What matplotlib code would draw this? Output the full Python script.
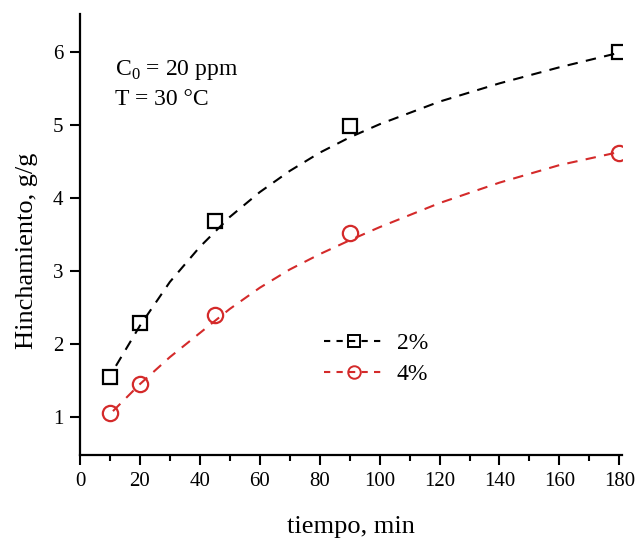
import numpy as np
import matplotlib
matplotlib.use("Agg")
import matplotlib.pyplot as plt
from matplotlib.ticker import MultipleLocator

plt.rcParams["font.family"] = ["Liberation Serif", "DejaVu Serif"]
plt.rcParams["mathtext.fontset"] = "custom"
plt.rcParams["mathtext.rm"] = "Liberation Serif"

# ==========================================================
# DATA
# ==========================================================

t_exp = [10, 20, 45, 90, 180]
w_2pct = [1.55, 2.29, 3.68, 4.98, 6.00]
w_4pct = [1.05, 1.45, 2.40, 3.52, 4.61]

# fitted curves
t_fit_2 = [12, 20, 30, 40, 50, 60, 70, 80, 90, 100, 120, 140, 160, 180]
w_fit_2 = [1.70, 2.25, 2.85, 3.33, 3.74, 4.08, 4.37, 4.62, 4.83, 5.01,
           5.32, 5.57, 5.79, 5.99]

t_fit_4 = [11, 20, 30, 40, 50, 60, 70, 80, 90, 100, 120, 140, 160, 180]
w_fit_4 = [1.08, 1.45, 1.82, 2.15, 2.48, 2.77, 3.02, 3.23, 3.42, 3.60,
           3.93, 4.21, 4.45, 4.63]

labels = ["2%", "4%"]
colors = ["black", "#d42a2a"]

# ==========================================================
# FIGURE
# ==========================================================

fig = plt.figure(figsize=(6.35, 5.39), dpi=100)
ax = fig.add_axes([0.126, 0.156, 0.854, 0.818])

ax.plot(t_fit_2, w_fit_2, ls=(0, (5, 4)), color=colors[0], lw=1.5)
ax.plot(t_fit_4, w_fit_4, ls=(0, (5, 4)), color=colors[1], lw=1.5)

ax.plot(t_exp, w_2pct, ls="none", marker="s", ms=10, mfc="none",
        mec=colors[0], mew=1.6)
ax.plot(t_exp, w_4pct, ls="none", marker="o", ms=11, mfc="none",
        mec=colors[1], mew=1.6)

# legend handles
h1, = ax.plot([], [], ls=(0, (3, 3)), color=colors[0], lw=1.5, marker="s",
              ms=8, mfc="none", mec=colors[0], mew=1.4)
h2, = ax.plot([], [], ls=(0, (3, 3)), color=colors[1], lw=1.5, marker="o",
              ms=9, mfc="none", mec=colors[1], mew=1.4)
ax.legend([h1, h2], labels, loc="upper left",
          bbox_to_anchor=(0.41, 0.325), frameon=False, fontsize=17,
          handlelength=2.6, handletextpad=0.5, labelspacing=0.4)

ax.text(0.065, 0.873, r"C$_0$ = 20 ppm", transform=ax.transAxes,
        fontsize=17, va="center", ha="left")
ax.text(0.065, 0.807, "T = 30 °C", transform=ax.transAxes,
        fontsize=17, va="center", ha="left")

ax.set_xlim(0, 181)
ax.set_ylim(0.48, 6.52)
ax.xaxis.set_major_locator(MultipleLocator(20))
ax.xaxis.set_minor_locator(MultipleLocator(10))
ax.yaxis.set_major_locator(MultipleLocator(1))
ax.yaxis.set_minor_locator(MultipleLocator(0.5))

ax.spines["top"].set_visible(False)
ax.spines["right"].set_visible(False)
for s in ("left", "bottom"):
    ax.spines[s].set_linewidth(1.6)

ax.tick_params(which="major", direction="out", length=7, width=1.5,
               labelsize=15, pad=5)
ax.tick_params(which="minor", direction="out", length=4, width=1.5)
ax.tick_params(axis="y", which="minor", length=0)

ax.set_xlabel("tiempo, min", fontsize=19, labelpad=18)
ax.set_ylabel("Hinchamiento, g/g", fontsize=19, labelpad=10)
ax.yaxis.set_label_coords(-0.078, 0.463)

fig.savefig("out.png", dpi=100)
